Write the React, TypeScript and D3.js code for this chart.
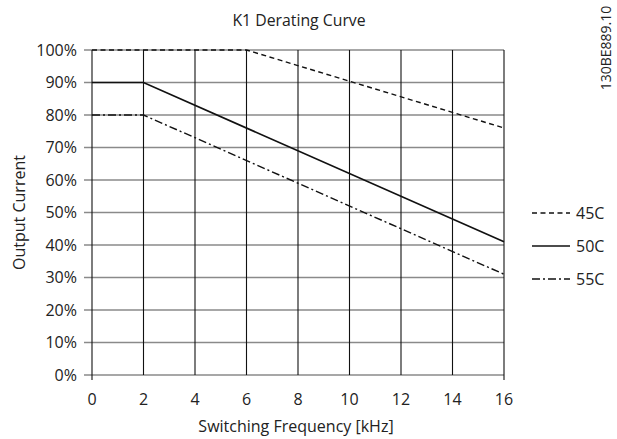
import React from "react";
import * as d3 from "d3";

const freq45 = [0, 6, 16];
const val45 = [100, 100, 76];
const freq50 = [0, 2, 16];
const val50 = [90, 90, 41];
const freq55 = [0, 2, 16];
const val55 = [80, 80, 31];
const xTicks = [0, 2, 4, 6, 8, 10, 12, 14, 16];
const yTicks = [0, 10, 20, 30, 40, 50, 60, 70, 80, 90, 100];
const seriesNames = ["45C", "50C", "55C"];

const W = 617, H = 439;
const L = 92, R = 504, T = 50, B = 375;
const FONT = "'Open Sans', 'Noto Sans', sans-serif";

export default function App() {
  const x = d3.scaleLinear().domain([0, 16]).range([L, R]);
  const y = d3.scaleLinear().domain([0, 100]).range([B, T]);
  const line = d3.line<[number, number]>().x(d => x(d[0])).y(d => y(d[1]));
  const mk = (fs: number[], vs: number[]) => fs.map((f, i) => [f, vs[i]] as [number, number]);
  const series = [
    { name: seriesNames[0], d: mk(freq45, val45), dash: "5,3.5", lw: 1.4 },
    { name: seriesNames[1], d: mk(freq50, val50), dash: "none", lw: 1.7 },
    { name: seriesNames[2], d: mk(freq55, val55), dash: "8,3,2,3", lw: 1.4 },
  ];
  const legendY = [213, 246, 279];
  return (
    <svg width={W} height={H} style={{ position: "absolute", left: 0, top: 0, background: "#fff" }} fontFamily={FONT}>
      <rect x={0} y={0} width={W} height={H} fill="#fff" />
      <text x={299} y={26} textAnchor="middle" fontSize={15.8} fill="#222">K1 Derating Curve</text>
      <text transform={`translate(611,48) rotate(-90)`} textAnchor="middle" fontSize={14} fill="#222">130BE889.10</text>
      {yTicks.map(t => (
        <g key={"y" + t}>
          <line x1={L - 8} x2={R} y1={y(t)} y2={y(t)} stroke="#8a8a8a" strokeWidth={1.6} />
          <text x={77} y={y(t) + 5.5} textAnchor="end" fontSize={16} fill="#222">{t}%</text>
        </g>
      ))}
      {xTicks.map(t => (
        <g key={"x" + t}>
          <line x1={x(t)} x2={x(t)} y1={T} y2={t === 0 || t === 16 ? B + 5 : B} stroke="#111" strokeWidth={1.1} />
          <text x={x(t)} y={405} textAnchor="middle" fontSize={16} fill="#222">{t}</text>
        </g>
      ))}
      {series.map(s => (
        <path key={s.name} d={line(s.d) || ""} fill="none" stroke="#111" strokeWidth={s.lw} strokeDasharray={s.dash} />
      ))}
      {series.map((s, i) => (
        <g key={"lg" + s.name}>
          <line x1={532} x2={570} y1={legendY[i]} y2={legendY[i]} stroke="#111" strokeWidth={s.lw} strokeDasharray={s.dash} />
          <text x={576} y={legendY[i] + 6} fontSize={16} fill="#222">{s.name}</text>
        </g>
      ))}
      <text x={296} y={432} textAnchor="middle" fontSize={16} fill="#222">Switching Frequency [kHz]</text>
      <text transform={`translate(25,${(T + B) / 2}) rotate(-90)`} textAnchor="middle" fontSize={16} fill="#222">Output Current</text>
    </svg>
  );
}
